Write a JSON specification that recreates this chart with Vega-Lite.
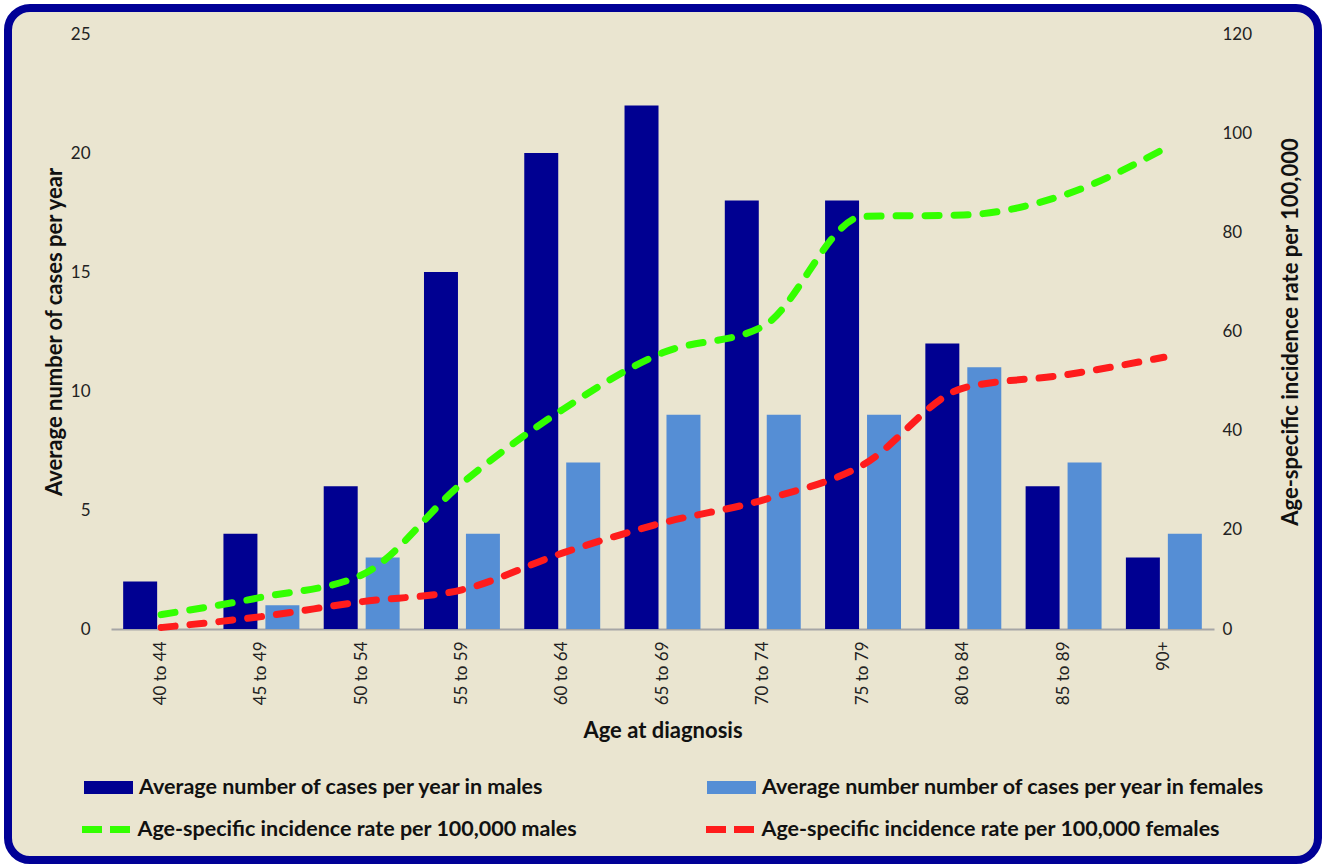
{
  "$schema": "https://vega.github.io/schema/vega-lite/v6.json",
  "width": 1310,
  "height": 852,
  "autosize": {"type": "none"},
  "padding": {"left": 8, "top": 8, "right": 8, "bottom": 7},
  "background": "white",
  "config": {
    "view": {"fill": "#EAE5D0", "stroke": "#000096", "strokeWidth": 8, "cornerRadius": 22},
    "font": "Lato",
    "axis": {
      "grid": false, "ticks": false, "domain": false,
      "labelFont": "Lato", "labelFontSize": 17, "labelColor": "#222222",
      "titleFont": "Lato", "titleFontSize": 22, "titleFontWeight": "bold", "titleColor": "#111111"
    },
    "legend": {
      "labelFont": "Lato", "labelFontSize": 21.5, "labelFontWeight": "bold", "labelColor": "#111111",
      "labelLimit": 1000, "padding": 0, "symbolSize": 2401, "symbolOpacity": 1
    }
  },
  "data": {
    "values": [
      {"age": "40 to 44", "m_cases": 2, "f_cases": 0, "m_rate": 2.9, "f_rate": 0.3},
      {"age": "45 to 49", "m_cases": 4, "f_cases": 1, "m_rate": 6.4, "f_rate": 2.5},
      {"age": "50 to 54", "m_cases": 6, "f_cases": 3, "m_rate": 10.9, "f_rate": 5.5},
      {"age": "55 to 59", "m_cases": 15, "f_cases": 4, "m_rate": 29.4, "f_rate": 7.9},
      {"age": "60 to 64", "m_cases": 20, "f_cases": 7, "m_rate": 44.2, "f_rate": 15.3},
      {"age": "65 to 69", "m_cases": 22, "f_cases": 9, "m_rate": 55.7, "f_rate": 21.4},
      {"age": "70 to 74", "m_cases": 18, "f_cases": 9, "m_rate": 61.0, "f_rate": 26.0},
      {"age": "75 to 79", "m_cases": 18, "f_cases": 9, "m_rate": 83.2, "f_rate": 33.1},
      {"age": "80 to 84", "m_cases": 12, "f_cases": 11, "m_rate": 83.5, "f_rate": 48.6},
      {"age": "85 to 89", "m_cases": 6, "f_cases": 7, "m_rate": 87.5, "f_rate": 51.2},
      {"age": "90+", "m_cases": 3, "f_cases": 4, "m_rate": 96.8, "f_rate": 54.8}
    ]
  },
  "transform": [{"fold": ["m_cases", "f_cases", "m_rate", "f_rate"], "as": ["series", "value"]}],
  "encoding": {
    "x": {
      "field": "age", "type": "nominal",
      "sort": ["40 to 44", "45 to 49", "50 to 54", "55 to 59", "60 to 64", "65 to 69", "70 to 74", "75 to 79", "80 to 84", "85 to 89", "90+"],
      "scale": {"range": [103, 1206], "paddingInner": 0, "paddingOuter": 0},
      "axis": {
        "title": "Age at diagnosis", "orient": "bottom", "offset": -231,
        "domain": true, "domainColor": "#A6A6A6", "domainWidth": 2,
        "labelAngle": -90, "labelPadding": 12,
        "titleBaseline": "middle", "titleY": 101
      }
    }
  },
  "layer": [
    {
      "transform": [{"filter": "datum.series == 'm_cases' || datum.series == 'f_cases'"}],
      "mark": {"type": "bar"},
      "encoding": {
        "xOffset": {"field": "series", "sort": ["m_cases", "f_cases"], "scale": {"paddingInner": 0.19, "paddingOuter": 0.29}},
        "y": {
          "field": "value", "type": "quantitative",
          "scale": {"domain": [0, 25], "range": [621, 26], "nice": false},
          "axis": {
            "title": "Average number of cases per year", "orient": "left", "offset": -86,
            "values": [0, 5, 10, 15, 20, 25], "labelPadding": 4,
            "titleX": -40, "titleBaseline": "middle"
          }
        },
        "fill": {
          "field": "series", "type": "nominal",
          "scale": {"domain": ["m_cases", "f_cases"], "range": ["#000091", "#558ED5"]},
          "legend": {
            "title": null, "orient": "none", "direction": "horizontal", "legendX": 76, "legendY": 755,
            "columnPadding": 162, "symbolType": "M-1,-0.27H1V0.27H-1Z", "symbolStrokeWidth": 0,
            "labelOffset": 6,
            "labelExpr": "datum.value == 'm_cases' ? 'Average number of cases per year in males' : 'Average number number of cases per year in females'"
          }
        }
      }
    },
    {
      "transform": [{"filter": "datum.series == 'm_rate' || datum.series == 'f_rate'"}],
      "mark": {"type": "line", "strokeWidth": 7, "strokeDash": [14, 15], "strokeCap": "round", "interpolate": "monotone"},
      "encoding": {
        "y": {
          "field": "value", "type": "quantitative",
          "scale": {"domain": [0, 120], "range": [621, 26], "nice": false},
          "axis": {
            "title": "Age-specific incidence rate per 100,000", "orient": "right", "offset": -100,
            "values": [0, 20, 40, 60, 80, 100, 120], "labelPadding": 4,
            "titleAngle": 270, "titleX": 72, "titleBaseline": "middle"
          }
        },
        "stroke": {
          "field": "series", "type": "nominal",
          "scale": {"domain": ["m_rate", "f_rate"], "range": ["#33FF00", "#FF1C1C"]},
          "legend": {
            "title": null, "orient": "none", "direction": "horizontal", "legendX": 70.5, "legendY": 793.5,
            "columnPadding": 114, "symbolType": "stroke", "symbolStrokeWidth": 7, "symbolDash": [20, 8],
            "labelOffset": 3,
            "labelExpr": "datum.value == 'm_rate' ? 'Age-specific incidence rate per 100,000 males' : 'Age-specific incidence rate per 100,000 females'"
          }
        }
      }
    }
  ],
  "resolve": {"scale": {"y": "independent"}}
}
